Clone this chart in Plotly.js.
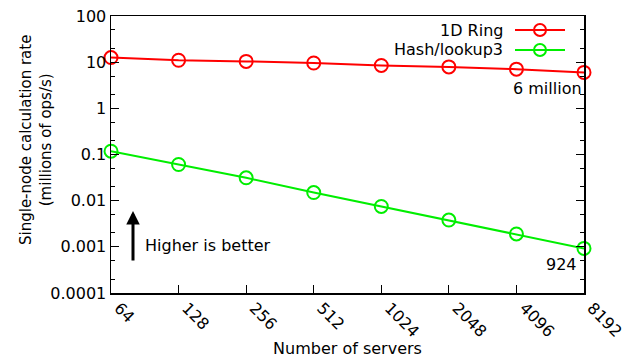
<!DOCTYPE html>
<html>
<head>
<meta charset="utf-8">
<script src="https://cdn.plot.ly/plotly-3.0.1.min.js"></script>
<style>html,body{margin:0;padding:0;background:#fff;} #chart{width:629px;height:358px;}</style>
</head>
<body>
<div id="chart"></div>
<script>
const servers = [64, 128, 256, 512, 1024, 2048, 4096, 8192];
const ringRate = [12.6, 11.0, 10.4, 9.6, 8.5, 7.9, 7.06, 6.0];
const hashRate = [0.118, 0.0607, 0.0313, 0.0150, 0.0075, 0.0038, 0.0019, 0.000924];
const seriesNames = ['1D Ring', 'Hash/lookup3'];
const seriesColors = ['#ff0000', '#00ee00'];
const xTickLabels = servers.map(String);
const yTickVals = [0.0001, 0.001, 0.01, 0.1, 1, 10, 100];
const yTickLabels = ['0.0001', '0.001', '0.01', '0.1', '1', '10', '100'];

const FONT = 'DejaVu Sans, sans-serif';
const FS = 16;

function trace(y, i) {
  return {
    x: servers, y: y, name: seriesNames[i], type: 'scatter', mode: 'lines+markers',
    line: {color: seriesColors[i], width: 2},
    marker: {symbol: 'circle-open', size: 13, color: seriesColors[i], line: {width: 2, color: seriesColors[i]}},
    showlegend: false, cliponaxis: false
  };
}

// plot-area geometry (px) used for the decorative legend
const L = 111, R = 45, T = 16, B = 65, W = 629, H = 358;
const pw = W - L - R, ph = H - T - B;
const px = v => (v - L) / pw;
const py = v => (H - B - v) / ph;

const legendRows = [30, 50];
const shapes = [];
const annotations = [];
seriesNames.forEach((n, i) => {
  const yy = py(legendRows[i]);
  shapes.push({type: 'line', xref: 'paper', yref: 'paper', x0: px(515), x1: px(565), y0: yy, y1: yy,
    line: {color: seriesColors[i], width: 2}});
  shapes.push({type: 'circle', xref: 'paper', yref: 'paper', x0: px(534), x1: px(546),
    y0: py(legendRows[i] + 6), y1: py(legendRows[i] - 6), line: {color: seriesColors[i], width: 2}});
  annotations.push({xref: 'paper', yref: 'paper', x: px(505), y: yy, xanchor: 'right', yanchor: 'middle',
    text: n, showarrow: false, font: {family: FONT, size: FS, color: '#000'}});
});

annotations.push({xref: 'x', yref: 'y', x: Math.log10(servers[7]), y: Math.log10(ringRate[7]),
  text: '6 million', showarrow: false, xanchor: 'right', yanchor: 'top', xshift: 0, yshift: -5,
  font: {family: FONT, size: FS, color: '#000'}});
annotations.push({xref: 'x', yref: 'y', x: Math.log10(servers[7]), y: Math.log10(hashRate[7]),
  text: '924', showarrow: false, xanchor: 'right', yanchor: 'top', xshift: -5, yshift: -5,
  font: {family: FONT, size: FS, color: '#000'}});
annotations.push({xref: 'paper', yref: 'paper', x: px(143), y: py(245), xanchor: 'left', yanchor: 'middle',
  text: 'Higher is better', showarrow: false, font: {family: FONT, size: FS, color: '#000'}});
annotations.push({xref: 'paper', yref: 'paper', x: px(133), y: py(211), text: '', showarrow: true,
  ax: 0, ay: 51, arrowhead: 2, arrowsize: 0.9, arrowwidth: 3, arrowcolor: '#000'});
// y-axis title (two lines), placed where the reference draws it
annotations.push({xref: 'paper', yref: 'paper', x: px(36), y: py(140), xanchor: 'center', yanchor: 'middle',
  text: 'Single-node calculation rate<br>(millions of ops/s)', textangle: -90, showarrow: false,
  font: {family: FONT, size: 15, color: '#000'}});

const layout = {
  width: W, height: H,
  margin: {l: L, r: R, t: T, b: B},
  paper_bgcolor: '#fff', plot_bgcolor: '#fff',
  font: {family: FONT, size: FS, color: '#000'},
  showlegend: false,
  xaxis: {
    type: 'log', range: [Math.log10(64) - 1e-4, Math.log10(8192)],
    tickvals: servers, ticktext: xTickLabels, tickangle: 45, ticklabelshift: 8, ticklabelstandoff: -2,
    ticks: 'inside', ticklen: 8, tickwidth: 1, tickcolor: '#000',
    showline: true, linecolor: '#000', linewidth: 1.5, mirror: true,
    showgrid: false, zeroline: false,
    title: {text: 'Number of servers', font: {family: FONT, size: FS}, standoff: 2},
    automargin: false
  },
  yaxis: {
    type: 'log', range: [-4, 2],
    tickvals: yTickVals, ticktext: yTickLabels,
    ticks: 'inside', ticklen: 8, tickwidth: 1, tickcolor: '#000',
    minor: {ticks: 'inside', ticklen: 4, tickcolor: '#000', dtick: 'D2', showgrid: false},
    showline: true, linecolor: '#000', linewidth: 1.5, mirror: 'ticks',
    showgrid: false, zeroline: false,
    title: {text: ''},
    automargin: false
  },
  shapes: shapes,
  annotations: annotations
};

Plotly.newPlot('chart', [trace(ringRate, 0), trace(hashRate, 1)], layout, {staticPlot: true, displayModeBar: false});
</script>
</body>
</html>
